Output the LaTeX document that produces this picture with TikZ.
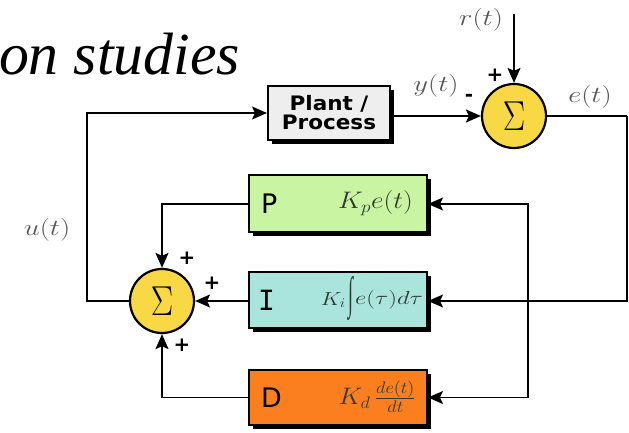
\RequirePackage{fix-cm}
\documentclass[tikz,border=0pt]{standalone}
\usepackage{graphicx}
\usepackage{fontspec}
\setmainfont{Liberation Serif}
\newfontfamily\djsans{DejaVu Sans}
\newfontfamily\djmono{DejaVu Sans Mono}
\usetikzlibrary{arrows.meta,shadows}
\definecolor{plantgray}{HTML}{EEEEEE}
\definecolor{sumyellow}{HTML}{F8D844}
\definecolor{pgreen}{HTML}{C9F5A3}
\definecolor{iteal}{HTML}{A9E5DC}
\definecolor{dorange}{HTML}{FB7F1E}
\definecolor{labelgray}{HTML}{555555}
\definecolor{mathdark}{HTML}{2E3A30}
\newcommand{\wide}[2]{\scalebox{#1}[1]{#2}}
\tikzset{
  conn/.style={line width=1.6bp, draw=black},
  arr/.style={conn, -{Stealth[length=15bp,width=13bp,inset=3bp]}},
  block/.style={rectangle, draw=black, line width=2bp, inner sep=0pt,
    drop shadow={shadow xshift=4bp, shadow yshift=-4bp, opacity=1, fill=black}},
  summer/.style={circle, draw=black, line width=2.2bp, fill=sumyellow, minimum size=64bp, inner sep=0pt,
    font=\fontsize{42}{42}\selectfont},
  siglabel/.style={text=labelgray, font=\fontsize{23}{23}\selectfont},
  sign/.style={font=\fontsize{20}{20}\selectfont\bfseries\djsans, inner sep=0pt},
  letter/.style={anchor=west, inner sep=0pt, font=\fontsize{27}{27}\selectfont\djsans},
  formula/.style={inner sep=0pt, text=mathdark}
}
\begin{document}
\begin{tikzpicture}[x=1bp,y=-1bp]
\useasboundingbox (0,0) rectangle (629,433);
% title
\node[anchor=base east, inner sep=0pt, font=\fontsize{60}{60}\selectfont\itshape] (title) at (240,75) {on studies};
% plant
\node[block, fill=plantgray, minimum width=122bp, minimum height=54bp,
  font=\fontsize{20}{19}\selectfont\bfseries\djsans, align=center] (plant) at (329,113) {\wide{1.08}{Plant /}\\\wide{1.08}{Process}};
% top summer
\node[summer] (sumT) at (514,116) {\wide{0.8}{$\Sigma$}};
% PID blocks
\node[block, fill=pgreen, minimum width=178bp, minimum height=57bp] (P) at (338,204) {};
\node[block, fill=iteal, minimum width=178bp, minimum height=56bp] (I) at (338,300) {};
\node[block, fill=dorange, minimum width=178bp, minimum height=55bp] (D) at (338,397.5) {};
\node[letter] (Pl) at (261,204) {P};
\node[letter, font=\fontsize{28}{28}\selectfont\djmono] (Il) at (258,300) {I};
\node[letter] (Dl) at (261,398) {D};
\node[formula, anchor=east, font=\fontsize{24}{24}\selectfont] (Pf) at (413,203) {\wide{1.15}{$K_p e(t)$}};
\node[formula, anchor=east, font=\fontsize{19}{19}\selectfont] (Ik) at (346,300) {\wide{1.2}{$K_i$}};
\node[formula, font=\fontsize{18}{18}\selectfont] (Iint) at (351,299) {\resizebox*{5bp}{44bp}{∫}};
\node[formula, anchor=west, font=\fontsize{19}{19}\selectfont] (Ie) at (355,300) {\wide{1.3}{$e(\tau)d\tau$}};
\node[formula, anchor=east, font=\fontsize{24}{24}\selectfont] (Df) at (416,397) {\wide{1.1}{$K_d\,\frac{de(t)}{dt}$}};
% bottom summer
\node[summer] (sumB) at (162,301) {\wide{0.8}{$\Sigma$}};
% signal labels
\node[siglabel] (rl) at (481,20) {\wide{1.25}{$r(t)$}};
\node[siglabel] (yl) at (436,86) {\wide{1.25}{$y(t)$}};
\node[siglabel] (el) at (590,97) {\wide{1.25}{$e(t)$}};
\node[siglabel] (ul) at (47,230) {\wide{1.25}{$u(t)$}};
% signs
\node[sign] (s1) at (495,75) {+};
\node[sign] (s2) at (469,98) {-};
\node[sign] (s3) at (187,258) {+};
\node[sign] (s4) at (212,283) {+};
\node[sign] (s5) at (182,345) {+};
% coordinates
\coordinate (rt) at (514,14);
\coordinate (ec) at (627,116);
\coordinate (jn) at (528,301);
\coordinate (uc) at (87,113);
% connectors
\draw[arr] (rt) -- (sumT.north);
\draw[arr] (plant.east |- sumT.west) -- (sumT.west);
\draw[conn] (sumT.east) -- (ec);
\draw[arr] (ec) |- (I.east |- jn);
\draw[arr] (jn) |- (P.east);
\draw[arr] (jn) |- (D.east);
\draw[arr] (P.west) -| (sumB.north);
\draw[arr] (I.west |- sumB) -- (sumB.east);
\draw[arr] (D.west) -| (sumB.south);
\draw[arr] (sumB.west) -| (uc) -- (plant.west);
\end{tikzpicture}
\end{document}
